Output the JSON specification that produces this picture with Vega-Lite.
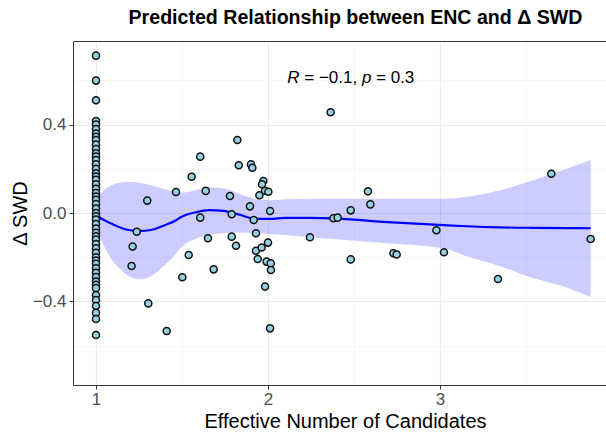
{
  "$schema": "https://vega.github.io/schema/vega-lite/v6.json",
  "width": 533,
  "height": 344,
  "autosize": {"type": "none"},
  "padding": {"left": 73, "top": 41, "right": 0, "bottom": 48},
  "title": {
    "text": "Predicted Relationship between ENC and Δ SWD",
    "fontSize": 19.6,
    "fontWeight": "bold",
    "color": "#000000",
    "anchor": "middle",
    "dx": 16,
    "dy": 2,
    "offset": 14
  },
  "config": {
    "font": "Liberation Sans",
    "view": {"stroke": null}
  },
  "datasets": {
    "pts": [
      {"x": 1, "y": 0.712}, {"x": 1, "y": 0.599}, {"x": 1, "y": 0.510}, {"x": 1, "y": 0.416},
      {"x": 1, "y": 0.40}, {"x": 1, "y": 0.38}, {"x": 1, "y": 0.36}, {"x": 1, "y": 0.345},
      {"x": 1, "y": 0.33}, {"x": 1, "y": 0.31}, {"x": 1, "y": 0.29}, {"x": 1, "y": 0.27},
      {"x": 1, "y": 0.255}, {"x": 1, "y": 0.24}, {"x": 1, "y": 0.22}, {"x": 1, "y": 0.20},
      {"x": 1, "y": 0.18}, {"x": 1, "y": 0.165}, {"x": 1, "y": 0.15}, {"x": 1, "y": 0.13},
      {"x": 1, "y": 0.11}, {"x": 1, "y": 0.09}, {"x": 1, "y": 0.075}, {"x": 1, "y": 0.06},
      {"x": 1, "y": 0.04}, {"x": 1, "y": 0.02}, {"x": 1, "y": 0.0}, {"x": 1, "y": -0.015},
      {"x": 1, "y": -0.03}, {"x": 1, "y": -0.05}, {"x": 1, "y": -0.07}, {"x": 1, "y": -0.09},
      {"x": 1, "y": -0.105}, {"x": 1, "y": -0.12}, {"x": 1, "y": -0.14}, {"x": 1, "y": -0.16},
      {"x": 1, "y": -0.18}, {"x": 1, "y": -0.20}, {"x": 1, "y": -0.215}, {"x": 1, "y": -0.23},
      {"x": 1, "y": -0.25}, {"x": 1, "y": -0.27}, {"x": 1, "y": -0.29}, {"x": 1, "y": -0.31},
      {"x": 1, "y": -0.325}, {"x": 1, "y": -0.34},
      {"x": 1, "y": -0.371}, {"x": 1, "y": -0.394}, {"x": 1, "y": -0.421}, {"x": 1, "y": -0.452},
      {"x": 1, "y": -0.480}, {"x": 1, "y": -0.552},
      {"x": 1.237, "y": -0.085}, {"x": 1.298, "y": 0.056}, {"x": 1.465, "y": 0.095},
      {"x": 1.556, "y": 0.164}, {"x": 1.606, "y": 0.255}, {"x": 1.606, "y": -0.021},
      {"x": 1.638, "y": 0.100}, {"x": 1.651, "y": -0.114}, {"x": 1.779, "y": 0.077},
      {"x": 1.789, "y": -0.006}, {"x": 1.789, "y": -0.107}, {"x": 1.822, "y": 0.330},
      {"x": 1.830, "y": 0.216}, {"x": 1.895, "y": 0.030}, {"x": 1.901, "y": 0.220},
      {"x": 1.909, "y": 0.205}, {"x": 1.917, "y": -0.032}, {"x": 1.930, "y": -0.092},
      {"x": 1.950, "y": 0.080}, {"x": 1.973, "y": 0.145}, {"x": 1.965, "y": 0.130},
      {"x": 1.983, "y": 0.101}, {"x": 2.002, "y": 0.096}, {"x": 2.012, "y": 0.009},
      {"x": 1.213, "y": -0.152}, {"x": 1.207, "y": -0.240}, {"x": 1.304, "y": -0.409},
      {"x": 1.411, "y": -0.534}, {"x": 1.502, "y": -0.291}, {"x": 1.539, "y": -0.190},
      {"x": 1.684, "y": -0.255}, {"x": 1.814, "y": -0.148}, {"x": 1.930, "y": -0.171},
      {"x": 1.963, "y": -0.156}, {"x": 2.000, "y": -0.134}, {"x": 1.940, "y": -0.208},
      {"x": 1.992, "y": -0.220}, {"x": 2.016, "y": -0.228}, {"x": 2.017, "y": -0.258},
      {"x": 1.983, "y": -0.333}, {"x": 2.012, "y": -0.522}, {"x": 2.244, "y": -0.110},
      {"x": 2.364, "y": 0.456}, {"x": 2.380, "y": -0.024}, {"x": 2.405, "y": -0.021},
      {"x": 2.481, "y": 0.012}, {"x": 2.481, "y": -0.210}, {"x": 2.581, "y": 0.098},
      {"x": 2.595, "y": 0.039}, {"x": 2.729, "y": -0.182}, {"x": 2.748, "y": -0.188},
      {"x": 2.979, "y": -0.078}, {"x": 3.023, "y": -0.178}, {"x": 3.337, "y": -0.299},
      {"x": 3.647, "y": 0.178}, {"x": 3.876, "y": -0.118}
    ],
    "fit": [
      {"x": 1.00, "fit": -0.009, "lo": -0.06, "hi": 0.05},
      {"x": 1.03, "fit": -0.025, "lo": -0.12, "hi": 0.088},
      {"x": 1.09, "fit": -0.048, "lo": -0.21, "hi": 0.126},
      {"x": 1.13, "fit": -0.062, "lo": -0.245, "hi": 0.136},
      {"x": 1.19, "fit": -0.077, "lo": -0.285, "hi": 0.141},
      {"x": 1.25, "fit": -0.081, "lo": -0.30, "hi": 0.138},
      {"x": 1.32, "fit": -0.077, "lo": -0.285, "hi": 0.126},
      {"x": 1.40, "fit": -0.055, "lo": -0.235, "hi": 0.108},
      {"x": 1.46, "fit": -0.035, "lo": -0.19, "hi": 0.096},
      {"x": 1.49, "fit": -0.02, "lo": -0.16, "hi": 0.092},
      {"x": 1.585, "fit": 0.004, "lo": -0.115, "hi": 0.104},
      {"x": 1.66, "fit": 0.013, "lo": -0.10, "hi": 0.117},
      {"x": 1.74, "fit": 0.010, "lo": -0.09, "hi": 0.112},
      {"x": 1.84, "fit": -0.009, "lo": -0.088, "hi": 0.085},
      {"x": 1.915, "fit": -0.025, "lo": -0.09, "hi": 0.066},
      {"x": 2.01, "fit": -0.027, "lo": -0.095, "hi": 0.058},
      {"x": 2.10, "fit": -0.022, "lo": -0.10, "hi": 0.062},
      {"x": 2.24, "fit": -0.022, "lo": -0.11, "hi": 0.063},
      {"x": 2.38, "fit": -0.024, "lo": -0.118, "hi": 0.064},
      {"x": 2.67, "fit": -0.040, "lo": -0.136, "hi": 0.064},
      {"x": 3.02, "fit": -0.055, "lo": -0.16, "hi": 0.064},
      {"x": 3.155, "fit": -0.060, "lo": -0.196, "hi": 0.073},
      {"x": 3.35, "fit": -0.065, "lo": -0.241, "hi": 0.103},
      {"x": 3.54, "fit": -0.067, "lo": -0.294, "hi": 0.148},
      {"x": 3.74, "fit": -0.068, "lo": -0.338, "hi": 0.201},
      {"x": 3.876, "fit": -0.069, "lo": -0.38, "hi": 0.24}
    ]
  },
  "layer": [
    {
      "data": {"name": "fit"},
      "mark": {"type": "area", "color": "#0000FF", "opacity": 0.2, "interpolate": "monotone"},
      "encoding": {
        "x": {
          "field": "x", "type": "quantitative",
          "scale": {"domain": [0.8663, 3.9651], "nice": false, "zero": false},
          "axis": {
            "orient": "bottom",
            "title": "Effective Number of Candidates",
            "titleFontSize": 20, "titleFontWeight": "normal", "titleColor": "#000000",
            "titleX": 272, "titlePadding": 4,
            "values": [1, 1.5, 2, 2.5, 3, 3.5],
            "labelExpr": "datum.value % 1 === 0 ? format(datum.value, 'd') : ''",
            "labelFontSize": 17, "labelColor": "#4D4D4D", "labelPadding": 2,
            "tickSize": 4, "tickColor": "#333333",
            "tickOpacity": {"condition": {"test": "datum.value % 1 !== 0", "value": 0}, "value": 1},
            "domainColor": "#333333", "domainWidth": 1,
            "grid": true,
            "gridColor": {"condition": {"test": "datum.value % 1 === 0", "value": "#EBEBEB"}, "value": "#F3F3F3"},
            "gridWidth": {"condition": {"test": "datum.value % 1 === 0", "value": 1.1}, "value": 0.6}
          }
        },
        "y": {
          "field": "lo", "type": "quantitative",
          "scale": {"domain": [-0.7783, 0.7783], "nice": false, "zero": false},
          "axis": {
            "title": "Δ SWD",
            "titleFontSize": 20, "titleFontWeight": "normal", "titleColor": "#000000",
            "titlePadding": 2,
            "values": [-0.6, -0.4, -0.2, 0, 0.2, 0.4, 0.6],
            "format": ".1f",
            "labelExpr": "(abs(datum.value) < 0.01 || abs(abs(datum.value) - 0.4) < 0.01) ? datum.label : ''",
            "labelFontSize": 17, "labelColor": "#4D4D4D", "labelPadding": 3,
            "tickSize": 4, "tickColor": "#333333",
            "tickOpacity": {"condition": {"test": "abs(datum.value) < 0.01 || abs(abs(datum.value) - 0.4) < 0.01", "value": 1}, "value": 0},
            "domainColor": "#333333", "domainWidth": 1,
            "grid": true,
            "gridColor": {"condition": {"test": "abs(datum.value) < 0.01 || abs(abs(datum.value) - 0.4) < 0.01", "value": "#EBEBEB"}, "value": "#F3F3F3"},
            "gridWidth": {"condition": {"test": "abs(datum.value) < 0.01 || abs(abs(datum.value) - 0.4) < 0.01", "value": 1.1}, "value": 0.6}
          }
        },
        "y2": {"field": "hi"}
      }
    },
    {
      "data": {"name": "fit"},
      "mark": {"type": "line", "color": "#0000FF", "strokeWidth": 2.2, "interpolate": "monotone"},
      "encoding": {
        "x": {"field": "x", "type": "quantitative",
          "axis": {"orient": "top", "labels": false, "ticks": false, "grid": false, "title": null, "domainColor": "#333333", "domainWidth": 1}},
        "y": {"field": "fit", "type": "quantitative"}
      }
    },
    {
      "data": {"name": "pts"},
      "mark": {"type": "circle", "fill": "#93D0E2", "stroke": "#111111", "strokeWidth": 1.5, "size": 50, "opacity": 1, "fillOpacity": 1},
      "encoding": {
        "x": {"field": "x", "type": "quantitative", "axis": null},
        "y": {"field": "y", "type": "quantitative"}
      }
    },
    {
      "data": {"values": [{}]},
      "mark": {"type": "text", "text": "R", "fontStyle": "italic", "fontSize": 17, "align": "left", "baseline": "middle", "color": "#000000"},
      "encoding": {
        "x": {"datum": 2.112, "type": "quantitative", "axis": null},
        "y": {"datum": 0.61, "type": "quantitative"}
      }
    },
    {
      "data": {"values": [{}]},
      "mark": {"type": "text", "text": "= −0.1,", "fontSize": 17, "align": "left", "baseline": "middle", "color": "#000000"},
      "encoding": {
        "x": {"datum": 2.211, "type": "quantitative", "axis": null},
        "y": {"datum": 0.61, "type": "quantitative"}
      }
    },
    {
      "data": {"values": [{}]},
      "mark": {"type": "text", "text": "p", "fontStyle": "italic", "fontSize": 17, "align": "left", "baseline": "middle", "color": "#000000"},
      "encoding": {
        "x": {"datum": 2.546, "type": "quantitative", "axis": null},
        "y": {"datum": 0.61, "type": "quantitative"}
      }
    },
    {
      "data": {"values": [{}]},
      "mark": {"type": "text", "text": "= 0.3", "fontSize": 17, "align": "left", "baseline": "middle", "color": "#000000"},
      "encoding": {
        "x": {"datum": 2.628, "type": "quantitative", "axis": null},
        "y": {"datum": 0.61, "type": "quantitative"}
      }
    }
  ],
  "resolve": {"axis": {"x": "independent"}}
}
